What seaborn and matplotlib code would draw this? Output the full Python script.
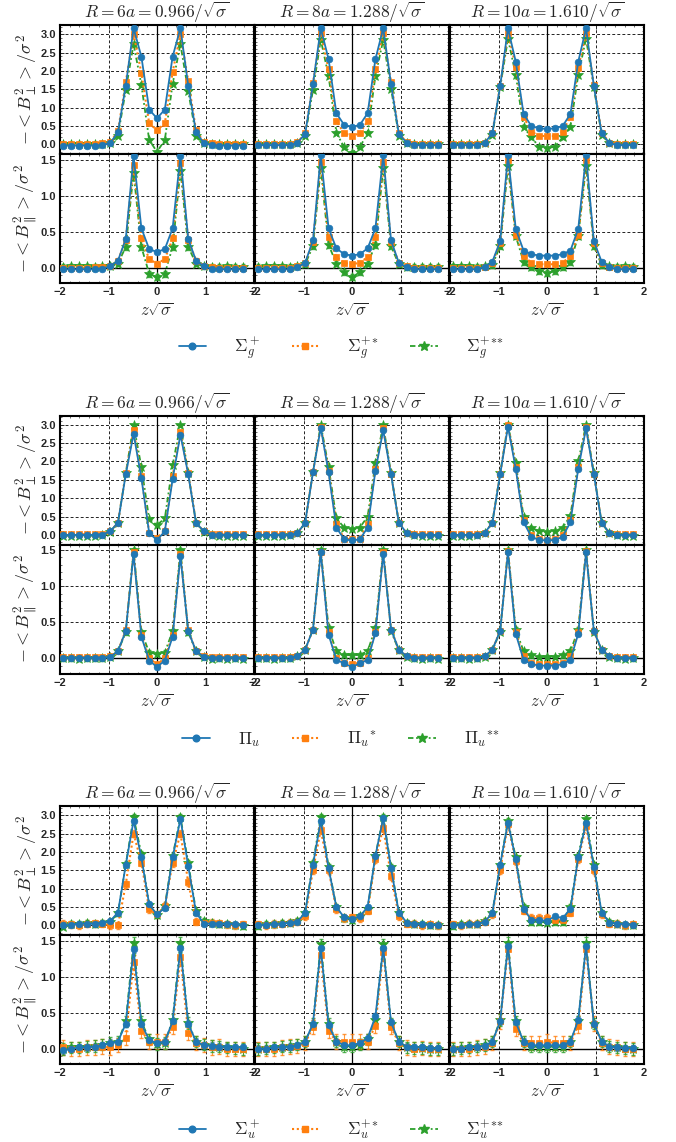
import matplotlib
matplotlib.use("Agg")
import matplotlib.pyplot as plt
import seaborn as sns
from matplotlib.lines import Line2D
from matplotlib.ticker import MultipleLocator

# ---------------- data ----------------
Z = [-1.932, -1.771, -1.610, -1.449, -1.288, -1.127, -0.966, -0.805, -0.644, -0.483,
     -0.322, -0.161, 0.0, 0.161, 0.322, 0.483, 0.644, 0.805, 0.966, 1.127,
     1.288, 1.449, 1.610, 1.771]

X_TICKS = [-2, -1, 0, 1, 2]
PERP_TICKS = [0.0, 0.5, 1.0, 1.5, 2.0, 2.5, 3.0]
PAR_TICKS = [0.0, 0.5, 1.0, 1.5]

R_TITLES = [r"$R = 6a = 0.966/\sqrt{\sigma}$",
            r"$R = 8a = 1.288/\sqrt{\sigma}$",
            r"$R = 10a = 1.610/\sqrt{\sigma}$"]

SG_LABELS = [r"$\mathbf{\Sigma}_g^+$", r"$\mathbf{\Sigma}_g^{+\,{*}}$", r"$\mathbf{\Sigma}_g^{+\,{*}{*}}$"]
PU_LABELS = [r"$\mathbf{\Pi}_u$", r"$\mathbf{\Pi}_u{}^{{*}}$", r"$\mathbf{\Pi}_u{}^{{*}{*}}$"]
SU_LABELS = [r"$\mathbf{\Sigma}_u^+$", r"$\mathbf{\Sigma}_u^{+\,{*}}$", r"$\mathbf{\Sigma}_u^{+\,{*}{*}}$"]

# Sigma_g^+  (A = plain, B = *, C = **)
SG_PERP_R6_A = [-0.03,-0.03,-0.03,-0.03,-0.03,-0.02,0.04,0.33,1.60,3.16,2.39,0.95,0.71,0.95,2.39,3.16,1.60,0.33,0.04,-0.02,-0.03,-0.03,-0.03,-0.03]
SG_PERP_R6_B = [0.02,0.02,0.02,0.02,0.02,0.03,0.06,0.36,1.69,3.00,1.95,0.57,0.39,0.57,1.97,3.00,1.73,0.38,0.06,0.03,0.02,0.02,0.02,0.02]
SG_PERP_R6_C = [0.0,0.0,0.0,0.0,0.01,0.01,0.04,0.24,1.48,2.73,1.62,0.12,-0.20,0.12,1.65,2.73,1.45,0.24,0.04,0.01,0.0,0.0,0.0,0.0]
SG_PERP_R8_A = [-0.02,-0.02,-0.02,-0.02,-0.02,0.05,0.28,1.64,3.16,2.32,0.85,0.53,0.48,0.53,0.85,2.32,3.16,1.64,0.28,0.05,-0.02,-0.02,-0.02,-0.02]
SG_PERP_R8_B = [0.02,0.02,0.02,0.02,0.02,0.06,0.30,1.66,3.03,2.05,0.64,0.30,0.24,0.30,0.64,2.05,3.03,1.70,0.30,0.06,0.02,0.02,0.02,0.02]
SG_PERP_R8_C = [0.0,0.0,0.0,0.0,0.0,0.05,0.24,1.48,2.85,1.86,0.32,-0.08,-0.22,-0.08,0.32,1.86,2.85,1.52,0.24,0.04,0.0,0.0,0.0,0.0]
SG_PERP_R10_A = [-0.02,-0.02,-0.02,-0.02,0.04,0.30,1.59,3.16,2.25,0.83,0.50,0.44,0.42,0.44,0.50,0.83,2.25,3.16,1.59,0.30,0.04,-0.02,-0.02,-0.02]
SG_PERP_R10_B = [0.02,0.02,0.02,0.02,0.05,0.32,1.60,3.03,2.12,0.75,0.35,0.23,0.23,0.23,0.35,0.75,2.08,3.03,1.62,0.32,0.05,0.02,0.02,0.02]
SG_PERP_R10_C = [0.0,0.0,0.0,0.0,0.04,0.26,1.55,2.88,1.89,0.48,0.19,-0.06,-0.10,-0.06,0.19,0.48,1.89,2.88,1.55,0.26,0.03,0.0,0.0,0.0]
SG_PAR_R6_A = [-0.02,-0.02,-0.02,-0.02,-0.02,-0.01,0.02,0.10,0.40,1.55,0.55,0.26,0.22,0.26,0.55,1.55,0.40,0.10,0.02,-0.01,-0.02,-0.02,-0.02,-0.02]
SG_PAR_R6_B = [0.0,0.0,0.0,0.0,0.01,0.01,0.03,0.10,0.39,1.43,0.41,0.12,0.06,0.12,0.41,1.45,0.39,0.10,0.03,0.01,0.0,0.0,0.0,0.0]
SG_PAR_R6_C = [0.01,0.02,0.02,0.02,0.01,0.02,0.03,0.06,0.29,1.32,0.29,-0.08,-0.13,-0.08,0.29,1.35,0.29,0.06,0.02,0.01,0.01,0.02,0.01,0.01]
SG_PAR_R8_A = [-0.02,-0.02,-0.02,-0.02,-0.02,0.01,0.07,0.38,1.56,0.55,0.27,0.19,0.17,0.19,0.27,0.55,1.56,0.38,0.07,0.01,-0.02,-0.02,-0.02,-0.02]
SG_PAR_R8_B = [0.0,0.0,0.0,0.0,0.0,0.02,0.07,0.36,1.47,0.43,0.15,0.07,0.05,0.07,0.15,0.43,1.47,0.36,0.07,0.02,0.0,0.0,0.0,0.0]
SG_PAR_R8_C = [0.01,0.02,0.02,0.02,0.01,0.02,0.05,0.30,1.38,0.32,0.06,-0.06,-0.13,-0.06,0.06,0.32,1.38,0.30,0.05,0.01,0.01,0.01,0.01,0.01]
SG_PAR_R10_A = [-0.02,-0.02,-0.02,-0.02,0.01,0.085,0.37,1.56,0.54,0.24,0.19,0.17,0.17,0.17,0.19,0.24,0.54,1.56,0.37,0.085,0.01,-0.02,-0.02,-0.02]
SG_PAR_R10_B = [0.0,0.0,0.0,0.0,0.01,0.07,0.34,1.50,0.46,0.17,0.07,0.05,0.05,0.05,0.07,0.17,0.46,1.50,0.34,0.07,0.01,0.0,0.0,0.0]
SG_PAR_R10_C = [0.02,0.02,0.02,0.01,0.02,0.04,0.30,1.41,0.44,0.085,0.01,-0.05,-0.07,-0.05,0.01,0.085,0.44,1.41,0.30,0.04,0.02,0.01,0.02,0.01]

# Pi_u
PU_PERP_R6_A = [0.0,0.0,0.0,0.0,0.0,0.01,0.10,0.33,1.65,2.75,1.55,0.05,-0.14,0.10,1.52,2.73,1.65,0.33,0.10,0.01,0.0,0.0,0.0,0.0]
PU_PERP_R6_B = [0.02,0.02,0.02,0.02,0.02,0.02,0.10,0.33,1.68,2.85,1.60,0.06,-0.08,0.12,1.60,2.80,1.68,0.33,0.10,0.02,0.02,0.02,0.02,0.02]
PU_PERP_R6_C = [-0.02,-0.02,-0.02,-0.02,-0.02,0.0,0.09,0.33,1.68,3.00,1.85,0.43,0.27,0.45,1.90,3.00,1.68,0.33,0.08,0.0,-0.02,-0.02,-0.02,-0.02]
PU_PERP_R8_A = [0.0,0.0,0.0,0.0,0.0,0.05,0.33,1.70,2.92,1.70,0.20,-0.12,-0.15,-0.12,0.20,1.75,2.85,1.65,0.33,0.05,0.0,0.0,0.0,0.0]
PU_PERP_R8_B = [0.02,0.02,0.02,0.02,0.02,0.05,0.33,1.72,2.95,1.75,0.30,-0.10,-0.12,-0.10,0.30,1.80,2.90,1.66,0.33,0.05,0.02,0.02,0.02,0.02]
PU_PERP_R8_C = [-0.02,-0.02,-0.02,-0.02,-0.01,0.05,0.33,1.72,3.00,1.85,0.45,0.20,0.15,0.20,0.50,1.95,2.98,1.68,0.33,0.04,-0.01,-0.02,-0.02,-0.02]
PU_PERP_R10_A = [0.0,0.0,0.0,0.0,0.05,0.33,1.65,2.95,1.80,0.35,-0.05,-0.14,-0.15,-0.14,-0.05,0.35,1.80,2.90,1.65,0.33,0.05,0.0,0.0,0.0]
PU_PERP_R10_B = [0.02,0.02,0.02,0.02,0.05,0.33,1.66,3.00,1.85,0.40,0.00,-0.12,-0.13,-0.12,0.00,0.40,1.85,2.95,1.66,0.33,0.05,0.02,0.02,0.02]
PU_PERP_R10_C = [-0.02,-0.02,-0.02,-0.01,0.05,0.33,1.68,3.00,1.95,0.50,0.20,0.10,0.08,0.10,0.20,0.52,2.00,3.00,1.68,0.33,0.04,-0.01,-0.02,-0.02]
PU_PAR_R6_A = [0.01,0.01,0.01,0.01,0.01,0.01,0.02,0.10,0.38,1.45,0.30,-0.03,-0.12,-0.03,0.30,1.42,0.38,0.10,0.02,0.01,0.01,0.01,0.01,0.01]
PU_PAR_R6_B = [0.02,0.02,0.02,0.02,0.02,0.02,0.03,0.10,0.39,1.47,0.33,0.00,-0.08,0.00,0.33,1.45,0.39,0.10,0.03,0.02,0.02,0.02,0.02,0.02]
PU_PAR_R6_C = [0.0,0.0,-0.01,0.0,0.0,0.0,0.02,0.10,0.36,1.50,0.37,0.08,0.06,0.08,0.38,1.50,0.36,0.10,0.02,-0.01,0.0,-0.01,0.0,-0.01]
PU_PAR_R8_A = [0.01,0.01,0.01,0.01,0.01,0.03,0.12,0.40,1.47,0.33,-0.02,-0.07,-0.12,-0.07,-0.02,0.35,1.45,0.40,0.12,0.03,0.01,0.01,0.01,0.01]
PU_PAR_R8_B = [0.02,0.02,0.02,0.02,0.02,0.03,0.12,0.40,1.48,0.36,0.00,-0.06,-0.08,-0.06,0.00,0.37,1.47,0.40,0.12,0.03,0.02,0.02,0.02,0.02]
PU_PAR_R8_C = [0.0,0.0,-0.01,0.0,0.0,0.03,0.12,0.40,1.50,0.42,0.10,0.05,0.04,0.05,0.10,0.42,1.50,0.38,0.11,0.02,0.0,-0.01,0.0,-0.01]
PU_PAR_R10_A = [0.01,0.01,0.01,0.01,0.03,0.12,0.38,1.47,0.34,-0.02,-0.08,-0.10,-0.10,-0.10,-0.08,-0.02,0.34,1.47,0.38,0.12,0.03,0.01,0.01,0.01]
PU_PAR_R10_B = [0.02,0.02,0.02,0.02,0.03,0.12,0.38,1.49,0.36,0.03,-0.06,-0.08,-0.08,-0.08,-0.06,0.03,0.36,1.49,0.38,0.12,0.03,0.02,0.02,0.02]
PU_PAR_R10_C = [0.0,0.0,-0.01,0.0,0.02,0.11,0.37,1.50,0.40,0.10,0.04,0.02,0.02,0.02,0.04,0.10,0.40,1.50,0.37,0.11,0.02,0.0,-0.01,0.0]

# Sigma_u^+
SU_PERP_R6_A = [0.0,0.02,0.05,0.05,0.05,0.08,0.12,0.35,1.65,2.85,1.85,0.57,0.30,0.48,1.85,2.90,1.62,0.35,0.05,0.05,0.05,0.04,0.03,0.02]
SU_PERP_R6_B = [0.05,0.03,0.0,0.05,0.06,0.05,0.0,0.0,1.12,2.50,1.71,0.44,0.30,0.53,1.70,2.50,1.18,0.10,0.08,0.08,0.06,0.03,0.0,0.03]
SU_PERP_R6_C = [-0.03,0.03,0.05,0.07,0.05,0.07,0.10,0.33,1.66,2.95,1.94,0.55,0.28,0.53,1.88,2.95,1.70,0.38,0.12,0.07,0.05,0.05,0.0,-0.02]
SU_PERP_R8_A = [0.0,0.02,0.03,0.05,0.07,0.10,0.35,1.65,2.85,1.55,0.50,0.22,0.18,0.25,0.50,1.90,2.92,1.55,0.35,0.08,0.05,0.03,0.02,0.02]
SU_PERP_R8_B = [0.03,0.0,0.04,0.05,0.08,0.10,0.25,1.50,2.60,1.50,0.45,0.20,0.22,0.20,0.40,1.80,2.65,1.35,0.25,0.05,0.05,0.0,0.03,0.0]
SU_PERP_R8_C = [-0.02,0.03,0.05,0.06,0.08,0.12,0.35,1.70,2.95,1.60,0.50,0.20,0.15,0.25,0.45,1.90,2.95,1.60,0.35,0.07,0.05,0.03,0.0,0.02]
SU_PERP_R10_A = [0.0,0.02,0.03,0.04,0.10,0.33,1.65,2.80,1.80,0.45,0.15,0.15,0.12,0.25,0.20,0.45,1.85,2.80,1.60,0.35,0.08,0.05,0.03,0.02]
SU_PERP_R10_B = [0.03,0.0,0.05,0.05,0.10,0.30,1.50,2.75,1.75,0.40,0.20,0.20,0.20,0.15,0.15,0.35,1.80,2.70,1.50,0.30,0.05,0.05,0.0,0.03]
SU_PERP_R10_C = [-0.02,0.03,0.04,0.05,0.12,0.35,1.65,2.85,1.85,0.50,0.10,0.10,0.08,0.10,0.10,0.50,1.90,2.90,1.65,0.35,0.10,0.05,0.02,0.0]
SU_PAR_R6_A = [-0.02,0.0,0.02,0.02,0.03,0.05,0.08,0.10,0.35,1.38,0.35,0.12,0.08,0.10,0.38,1.40,0.35,0.10,0.05,0.04,0.03,0.03,0.02,0.02]
SU_PAR_R6_B = [0.02,0.0,0.0,0.02,0.02,0.03,0.02,0.05,0.15,1.20,0.25,0.10,0.10,0.10,0.30,1.28,0.22,0.08,0.05,0.02,0.03,0.0,0.0,0.0]
SU_PAR_R6_C = [0.0,0.02,0.02,0.03,0.04,0.06,0.08,0.10,0.38,1.47,0.38,0.13,0.07,0.08,0.40,1.47,0.36,0.10,0.06,0.04,0.03,0.02,0.01,0.0]
SU_PAR_R8_A = [0.0,0.0,0.02,0.02,0.03,0.05,0.10,0.35,1.40,0.33,0.10,0.05,0.05,0.08,0.15,0.45,1.40,0.37,0.10,0.03,0.02,0.02,0.01,0.01]
SU_PAR_R8_B = [0.0,0.0,0.0,0.02,0.03,0.04,0.08,0.30,1.30,0.25,0.10,0.10,0.10,0.10,0.10,0.32,1.35,0.30,0.08,0.02,0.0,0.01,0.0,0.0]
SU_PAR_R8_C = [0.0,0.01,0.02,0.03,0.04,0.06,0.10,0.35,1.45,0.35,0.10,0.03,0.03,0.06,0.13,0.40,1.45,0.35,0.10,0.02,0.01,0.01,0.0,0.0]
SU_PAR_R10_A = [0.0,0.0,0.02,0.03,0.04,0.10,0.38,1.43,0.37,0.10,0.05,0.05,0.05,0.05,0.05,0.10,0.40,1.43,0.35,0.10,0.03,0.02,0.01,0.01]
SU_PAR_R10_B = [0.0,0.0,0.0,0.02,0.03,0.08,0.38,1.38,0.28,0.08,0.08,0.08,0.10,0.08,0.08,0.08,0.32,1.38,0.35,0.08,0.03,0.02,0.0,0.0]
SU_PAR_R10_C = [0.0,0.01,0.02,0.03,0.05,0.10,0.40,1.47,0.38,0.10,0.03,0.03,0.03,0.03,0.03,0.10,0.38,1.47,0.35,0.10,0.03,0.02,0.01,0.0]

# typical statistical errors per group for the three series (A, B, C)
SG_ERR = [0.02, 0.03, 0.04]
PU_ERR = [0.02, 0.02, 0.03]
SU_ERR = [0.05, 0.10, 0.08]

# ---------------- tables built from the data ----------------
GROUPS = [
    dict(labels=SG_LABELS, err=SG_ERR,
         perp=[[SG_PERP_R6_A, SG_PERP_R6_B, SG_PERP_R6_C],
               [SG_PERP_R8_A, SG_PERP_R8_B, SG_PERP_R8_C],
               [SG_PERP_R10_A, SG_PERP_R10_B, SG_PERP_R10_C]],
         par=[[SG_PAR_R6_A, SG_PAR_R6_B, SG_PAR_R6_C],
              [SG_PAR_R8_A, SG_PAR_R8_B, SG_PAR_R8_C],
              [SG_PAR_R10_A, SG_PAR_R10_B, SG_PAR_R10_C]]),
    dict(labels=PU_LABELS, err=PU_ERR,
         perp=[[PU_PERP_R6_A, PU_PERP_R6_B, PU_PERP_R6_C],
               [PU_PERP_R8_A, PU_PERP_R8_B, PU_PERP_R8_C],
               [PU_PERP_R10_A, PU_PERP_R10_B, PU_PERP_R10_C]],
         par=[[PU_PAR_R6_A, PU_PAR_R6_B, PU_PAR_R6_C],
              [PU_PAR_R8_A, PU_PAR_R8_B, PU_PAR_R8_C],
              [PU_PAR_R10_A, PU_PAR_R10_B, PU_PAR_R10_C]]),
    dict(labels=SU_LABELS, err=SU_ERR,
         perp=[[SU_PERP_R6_A, SU_PERP_R6_B, SU_PERP_R6_C],
               [SU_PERP_R8_A, SU_PERP_R8_B, SU_PERP_R8_C],
               [SU_PERP_R10_A, SU_PERP_R10_B, SU_PERP_R10_C]],
         par=[[SU_PAR_R6_A, SU_PAR_R6_B, SU_PAR_R6_C],
              [SU_PAR_R8_A, SU_PAR_R8_B, SU_PAR_R8_C],
              [SU_PAR_R10_A, SU_PAR_R10_B, SU_PAR_R10_C]]),
]

# ---------------- style ----------------
sns.set_style("white")
plt.rcParams["font.family"] = ["Liberation Sans", "DejaVu Sans"]
plt.rcParams["mathtext.fontset"] = "cm"
plt.rcParams["axes.unicode_minus"] = True

COLORS = ["#1f77b4", "#ff7f0e", "#2ca02c"]
MARKERS = ["o", "s", "*"]
LSTYLES = ["-", (0, (1, 1.3)), (0, (3, 1.5, 1, 1.5))]
MSIZES = [4.8, 4.2, 7.5]
LWIDTHS = [1.3, 1.5, 1.3]

W, H = 676, 1142
fig = plt.figure(figsize=(W / 100, H / 100), dpi=100)

PERIOD = 390.5
PX_LEFT = [60, 255, 450]
PW = 194
ROW_H = 129


def add_ax(x0, ytop, w, h):
    return fig.add_axes([x0 / W, 1 - (ytop + h) / H, w / W, h / H])


def fmt_x(v):
    return f"{v:d}".replace("-", "\u2212")


def style_ax(ax, row, col):
    yt = PERP_TICKS if row == 0 else PAR_TICKS
    ax.set_xticks(X_TICKS, labels=[fmt_x(v) for v in X_TICKS],
                  fontweight="bold", fontsize=8)
    ax.set_yticks(yt, labels=[f"{v:.1f}" for v in yt],
                  fontweight="bold", fontsize=8)
    ax.set_xlim(-2, 2)
    if row == 0:
        ax.set_ylim(-0.26, 3.25)
    else:
        ax.set_ylim(-0.21, 1.58)
        ax.axhline(0, color="black", lw=1.0, zorder=1.5)
    ax.xaxis.set_minor_locator(MultipleLocator(0.2))
    ax.yaxis.set_minor_locator(MultipleLocator(0.1))
    ax.set_axisbelow(True)
    ax.grid(True, which="major", color="#222222", lw=0.7, ls=(0, (3, 2.2)))
    ax.axvline(0, color="black", lw=0.9, zorder=1.5)
    ax.tick_params(which="both", direction="in", top=True, right=True,
                   bottom=True, left=True, color="#333333")
    ax.tick_params(which="major", length=3, width=0.7, pad=3)
    ax.tick_params(which="minor", length=1.5, width=0.5)
    for sp in ax.spines.values():
        sp.set_visible(True)
        sp.set_color("black")
        sp.set_linewidth(1.5)
    if col != 0:
        ax.tick_params(labelleft=False)
    if row == 0:
        ax.tick_params(labelbottom=False)


for g, grp in enumerate(GROUPS):
    off = PERIOD * g
    for col in range(3):
        for row, key in enumerate(["perp", "par"]):
            ax = add_ax(PX_LEFT[col], 25 + off + row * ROW_H, PW, ROW_H)
            series = grp[key][col]
            for s in range(3):
                vals = series[s]
                ax.errorbar(Z, vals, yerr=grp["err"][s], fmt="none",
                            ecolor=COLORS[s], elinewidth=0.8, capsize=1.2,
                            alpha=0.8, zorder=2)
                sns.lineplot(x=Z, y=vals, ax=ax, color=COLORS[s],
                             marker=MARKERS[s], linestyle=LSTYLES[s],
                             linewidth=LWIDTHS[s], markersize=MSIZES[s],
                             markeredgecolor=COLORS[s], markeredgewidth=0.5,
                             errorbar=None, sort=False, legend=False,
                             zorder=3 + (2 - s) * 0.1)
            style_ax(ax, row, col)
            ax.set_xlabel("")
            ax.set_ylabel("")
            if row == 0:
                ax.set_title(R_TITLES[col], fontsize=12.5, pad=4)
            else:
                ax.set_xlabel(r"$z\sqrt{\sigma}$", fontsize=12, labelpad=3)
            if col == 0:
                if row == 0:
                    ax.set_ylabel(r"$-<B_\perp^2>/\sigma^2$", fontsize=13, labelpad=0)
                else:
                    ax.set_ylabel(r"$-<B_\parallel^2>/\sigma^2$", fontsize=13, labelpad=0)

    handles = [Line2D([], [], color=COLORS[s], marker=MARKERS[s], linestyle=LSTYLES[s],
                      linewidth=LWIDTHS[s], markersize=MSIZES[s],
                      markeredgecolor=COLORS[s]) for s in range(3)]
    fig.legend(handles, grp["labels"], loc="center", ncol=3, frameon=False,
               bbox_to_anchor=(341 / W, 1 - (349 + off) / H),
               fontsize=12.5, handlelength=1.6, handletextpad=1.6,
               columnspacing=1.8)

fig.savefig("out.png", dpi=100)
